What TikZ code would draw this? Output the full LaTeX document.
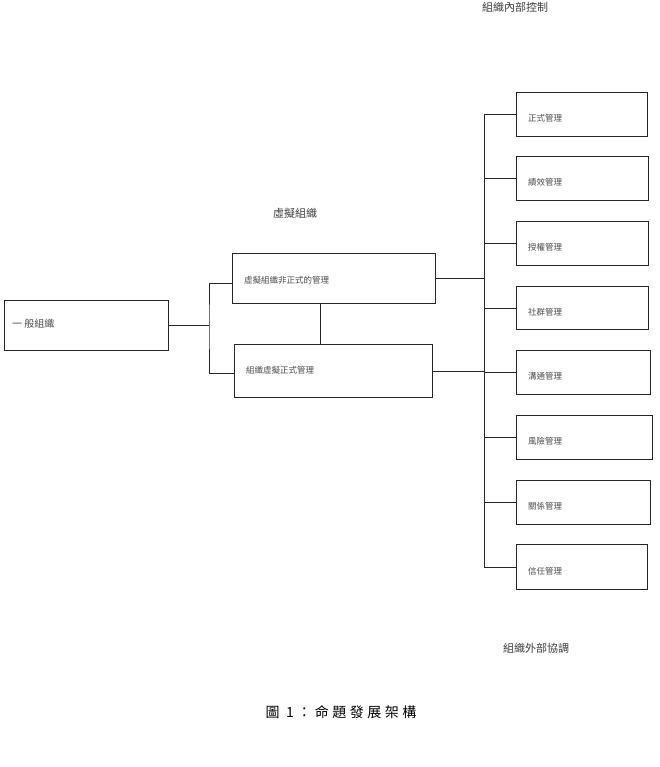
\documentclass[tikz,border=0pt]{standalone}
\usepackage{fontspec}
\setmainfont{Noto Sans CJK TC}
\begin{document}
\begin{tikzpicture}[x=1pt,y=-1pt,
  box/.style={draw=black!85, line width=1pt, anchor=north west, inner sep=0pt},
  lbl/.style={anchor=west, inner sep=0pt, text=black!70, font=\fontsize{8.5}{10}\selectfont},
  head/.style={inner sep=0pt, text=black!75, font=\fontsize{11}{13}\selectfont},
  wire/.style={draw=black!85, line width=1pt}]
\useasboundingbox[fill=white] (0,0) rectangle (659,767);

% left-hand organisation
\node[box, minimum width=164pt, minimum height=50pt] (gen) at (4,300) {};
\node[lbl, font=\fontsize{10}{12}\selectfont] (genT) at (12,324) {一 般組織};

% virtual organisation boxes
\node[head] (virt) at (295,213) {虛擬組織};
\node[box, minimum width=203pt, minimum height=50pt] (b1) at (232,253) {};
\node[lbl] (b1T) at (244,280) {虛擬組織非正式的管理};
\node[box, minimum width=198pt, minimum height=53pt] (b2) at (234,344) {};
\node[lbl] (b2T) at (246,370) {組織虛擬正式管理};

% management boxes on the right
\node[box, minimum width=131pt, minimum height=44pt] (r1) at (516,92) {};
\node[box, minimum width=132pt, minimum height=44pt] (r2) at (516,156) {};
\node[box, minimum width=132pt, minimum height=44pt] (r3) at (516,221) {};
\node[box, minimum width=132pt, minimum height=43pt] (r4) at (516,286) {};
\node[box, minimum width=134pt, minimum height=44pt] (r5) at (516,350) {};
\node[box, minimum width=136pt, minimum height=44pt] (r6) at (516,415) {};
\node[box, minimum width=134pt, minimum height=44pt] (r7) at (516,480) {};
\node[box, minimum width=131pt, minimum height=45pt] (r8) at (516,544) {};

\node[lbl] (r1T) at (528,118) {正式管理};
\node[lbl] (r2T) at (528,182) {績效管理};
\node[lbl] (r3T) at (528,247) {授權管理};
\node[lbl] (r4T) at (528,312) {社群管理};
\node[lbl] (r5T) at (528,376) {溝通管理};
\node[lbl] (r6T) at (528,441) {風險管理};
\node[lbl] (r7T) at (528,506) {關係管理};
\node[lbl] (r8T) at (528,571) {信任管理};

% headings and caption
\node[head] (inner) at (515,7) {組織內部控制};
\node[head] (outer) at (536,648) {組織外部協調};
\node[inner sep=0pt, font=\fontsize{14}{16}\selectfont\addfontfeature{LetterSpace=25}] (cap) at (341,712) {圖 1：命題發展架構};

% connectors
\coordinate (fork) at (209,325);
\coordinate (mid) at (320,0);
\coordinate (tTop) at (484,114);
\coordinate (tBot) at (484,567);

\draw[wire] (gen.east) -- (gen.east -| fork);
\draw[wire] ([yshift=-5pt]b1.west) -| (fork) |- ([yshift=-2pt]b2.west);
\draw[wire] (b1.south -| mid) -- (b2.north -| mid);
\draw[wire] (tTop) -- (tBot);
\draw[wire] (b1.east) -- (b1.east -| tTop);
\draw[wire] (b2.east) -- (b2.east -| tTop);
\foreach \r in {r1,r2,r3,r4,r5,r6,r7,r8}
  \draw[wire] (\r.west) -- (\r.west -| tTop);
\end{tikzpicture}
\end{document}
